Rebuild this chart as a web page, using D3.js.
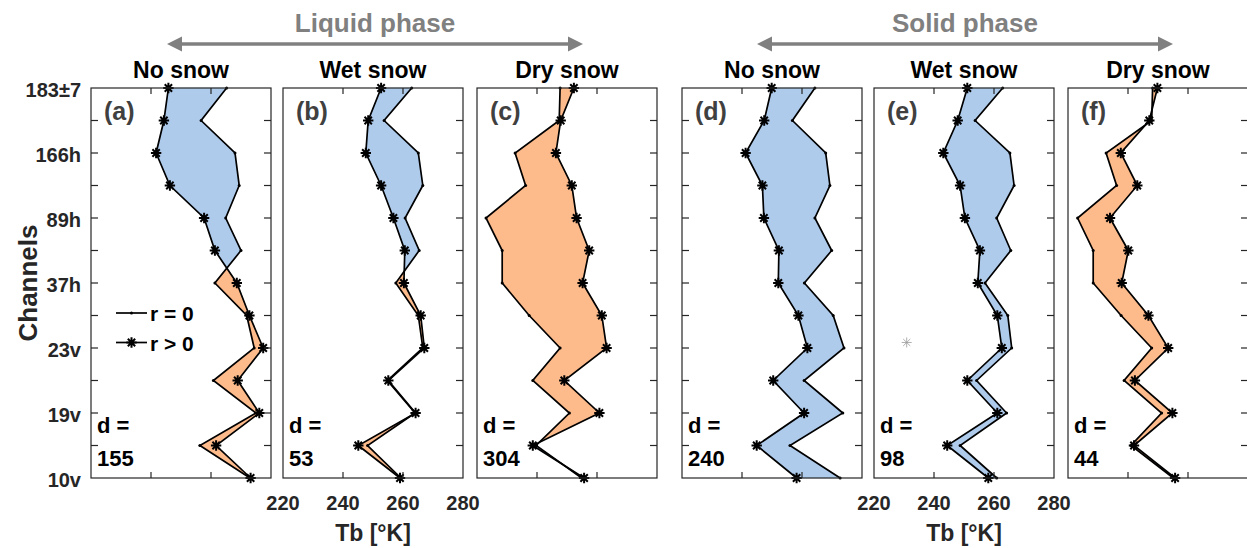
<!DOCTYPE html>
<html><head><meta charset="utf-8">
<script src="https://cdn.jsdelivr.net/npm/d3@7"></script>
<style>
body{margin:0;background:#fff;}
text{font-family:"Liberation Sans",Arial,sans-serif;font-weight:bold;}
</style></head>
<body><svg id="c" width="1247" height="548"></svg>
<script>
// ---------- data ----------
const channels = ["10v","10h","19v","19h","23v","37v","37h","89v","89h","166v","166h","183±3","183±7"];
const panelLetters = ["(a)","(b)","(c)","(d)","(e)","(f)"];
const panelTitles = ["No snow","Wet snow","Dry snow","No snow","Wet snow","Dry snow"];
const dValues = [155, 53, 304, 240, 98, 44];
const phaseLabels = ["Liquid phase","Solid phase"];
const xTicks = [220, 240, 260, 280];
// Tb values, ordered from 10v (bottom) to 183±7 (top)
const rZeroA = [273.0,256.3,275.0,260.8,274.4,271.9,261.3,270.0,264.9,269.4,268.0,256.7,265.2];
const rPosA  = [273.2,261.7,276.1,268.9,277.4,272.8,268.6,261.3,257.7,246.3,241.7,244.3,245.8];
const rZeroB = [259.3,248.2,264.0,254.8,266.6,265.1,257.6,265.4,260.7,266.6,265.1,253.7,262.9];
const rPosB  = [259.0,245.1,264.2,255.1,267.1,265.9,260.3,260.6,256.8,252.7,247.6,248.4,252.7];
const rZeroC = [254.9,239.7,250.8,238.6,247.7,237.4,228.4,228.4,223.0,236.2,232.7,247.4,247.7];
const rPosC  = [255.7,238.6,260.8,249.1,263.2,261.6,255.2,257.4,253.2,251.6,246.3,247.9,252.3];
const rZeroD = [272.7,256.0,273.6,260.7,274.0,270.4,260.8,269.9,264.3,269.3,267.9,256.8,264.3];
const rPosD  = [258.2,244.9,260.7,250.4,261.8,258.8,252.1,252.3,247.3,246.8,241.2,247.4,249.9];
const rZeroE = [260.9,248.7,264.2,254.2,265.9,264.6,257.0,265.6,260.9,266.7,265.3,253.7,262.9];
const rPosE  = [258.1,244.4,261.1,251.1,262.6,261.1,254.6,255.3,250.3,248.7,243.1,247.9,251.1];
const rZeroF = [255.1,241.0,251.2,238.7,247.9,237.7,228.4,228.4,223.2,236.2,232.7,247.9,248.2];
const rPosF  = [255.7,242.0,254.8,242.3,253.4,246.8,237.9,240.1,234.0,243.1,237.6,247.1,249.8];
const rZeroSeries = [rZeroA, rZeroB, rZeroC, rZeroD, rZeroE, rZeroF];
const rPosSeries  = [rPosA, rPosB, rPosC, rPosD, rPosE, rPosF];
const legendLabels = ["r = 0", "r > 0"];
// a stray grey marker visible in panel (e): [panel index, Tb, channel position]
const strayMarker = [4, 230.9, 4.17];

// ---------- layout ----------
const svg = d3.select("#c");
const panelLeft = [91, 283, 477, 682, 874, 1068];
const pw = 180, topY = 88, bottomY = 478;
const axisCol = "#262626";
const blue = "#afcbec", orange = "#fdbb8c";
const lw = 1.7;

const y = d3.scaleLinear().domain([0, channels.length - 1]).range([bottomY, topY]);

function asterisk(g, cx, cy, r, col, w) {
  const p = d3.path();
  for (let k = 0; k < 4; k++) {
    const a = k * Math.PI / 4;
    p.moveTo(cx - r * Math.cos(a), cy - r * Math.sin(a));
    p.lineTo(cx + r * Math.cos(a), cy + r * Math.sin(a));
  }
  g.append("path").attr("d", p.toString()).attr("stroke", col).attr("stroke-width", w).attr("fill", "none");
}
function interp(arr, p) {
  const i = Math.min(Math.floor(p), arr.length - 2), f = p - i;
  return arr[i] + f * (arr[i + 1] - arr[i]);
}

panelLeft.forEach((L, pi) => {
  const x = d3.scaleLinear().domain([220, 280]).range([L, L + pw]);
  const g = svg.append("g");
  const r0 = rZeroSeries[pi], rp = rPosSeries[pi];
  const n = r0.length;
  const diff = rp.map((v, i) => v - r0[i]);

  // regions between significant crossings
  const breaks = [0];
  for (let i = 0; i < n - 1; i++) {
    if (diff[i] * diff[i + 1] < 0 && Math.abs(diff[i]) >= 1 && Math.abs(diff[i + 1]) >= 1)
      breaks.push(i + diff[i] / (diff[i] - diff[i + 1]));
  }
  breaks.push(n - 1);
  for (let k = 0; k < breaks.length - 1; k++) {
    const s = breaks[k], e = breaks[k + 1];
    const ps = [s];
    for (let i = Math.floor(s) + 1; i < e; i++) ps.push(i);
    ps.push(e);
    let area = 0;
    for (let j = 0; j < ps.length - 1; j++) {
      const da = interp(rp, ps[j]) - interp(r0, ps[j]);
      const db = interp(rp, ps[j + 1]) - interp(r0, ps[j + 1]);
      area += (da + db) / 2 * (ps[j + 1] - ps[j]);
    }
    const pts = ps.map(p => [x(interp(r0, p)), y(p)])
      .concat(ps.slice().reverse().map(p => [x(interp(rp, p)), y(p)]));
    const c = area > 0 ? orange : blue;
    g.append("path").attr("d", d3.line()(pts) + "Z").attr("fill", c).attr("stroke", c).attr("stroke-width", 0.5);
  }

  const line = d3.line().x(d => x(d[0])).y(d => y(d[1]));
  g.append("path").datum(r0.map((v, i) => [v, i])).attr("d", line)
    .attr("fill", "none").attr("stroke", "#000").attr("stroke-width", lw);
  g.append("path").datum(rp.map((v, i) => [v, i])).attr("d", line)
    .attr("fill", "none").attr("stroke", "#000").attr("stroke-width", lw);
  r0.forEach((v, i) => g.append("circle").attr("cx", x(v)).attr("cy", y(i)).attr("r", 1.5).attr("fill", "#000"));
  rp.forEach((v, i) => asterisk(g, x(v), y(i), 5.2, "#000", 2));

  // frame
  g.append("rect").attr("x", L).attr("y", topY).attr("width", pw).attr("height", bottomY - topY)
    .attr("fill", "none").attr("stroke", axisCol).attr("stroke-width", 1.2);
  // y ticks
  d3.range(n).forEach(i => {
    if (i === 0 || i === n - 1) return;
    g.append("line").attr("x1", L + pw).attr("x2", L + pw - 7).attr("y1", y(i)).attr("y2", y(i))
      .attr("stroke", axisCol).attr("stroke-width", 1.2);
    if (pi === 0 || pi === 3)
      g.append("line").attr("x1", L).attr("x2", L + 7).attr("y1", y(i)).attr("y2", y(i))
        .attr("stroke", axisCol).attr("stroke-width", 1.2);
  });
  // x ticks top & bottom
  xTicks.slice(1, -1).forEach(t => {
    g.append("line").attr("x1", x(t)).attr("x2", x(t)).attr("y1", bottomY).attr("y2", bottomY - 6)
      .attr("stroke", axisCol).attr("stroke-width", 1.2);
    g.append("line").attr("x1", x(t)).attr("x2", x(t)).attr("y1", topY).attr("y2", topY + 6)
      .attr("stroke", axisCol).attr("stroke-width", 1.2);
  });

  // texts
  g.append("text").attr("x", L + pw / 2).attr("y", 78).attr("text-anchor", "middle")
    .attr("font-size", 23).attr("fill", "#000").text(panelTitles[pi]);
  g.append("text").attr("x", L + 13).attr("y", 120).attr("font-size", 25)
    .attr("fill", "#404040").text(panelLetters[pi]);
  g.append("text").attr("x", L + 6).attr("y", 433).attr("font-size", 22).attr("fill", "#000").text("d =");
  g.append("text").attr("x", L + 6).attr("y", 466).attr("font-size", 22).attr("fill", "#000").text(dValues[pi]);

  if (pi === 1 || pi === 4) {
    xTicks.forEach(t => g.append("text").attr("x", x(t)).attr("y", 510).attr("text-anchor", "middle")
      .attr("font-size", 20).attr("fill", axisCol).text(t));
    g.append("text").attr("x", L + pw / 2).attr("y", 541).attr("text-anchor", "middle")
      .attr("font-size", 23).attr("fill", axisCol).text("Tb [°K]");
  }
  if (pi === 0) {
    channels.forEach((c, i) => {
      if (i % 2) return;
      g.append("text").attr("x", L - 10).attr("y", y(i) + 9).attr("text-anchor", "end")
        .attr("font-size", 20).attr("fill", axisCol).text(c);
    });
    // legend
    const ly = [y(5) - 2.5, y(4) - 5.5];
    ly.forEach((yy, k) => {
      g.append("line").attr("x1", L + 25).attr("x2", L + 56).attr("y1", yy).attr("y2", yy)
        .attr("stroke", "#000").attr("stroke-width", lw);
      if (k === 0) g.append("circle").attr("cx", L + 40.5).attr("cy", yy).attr("r", 1.5).attr("fill", "#000");
      else asterisk(g, L + 40.5, yy, 5.2, "#000", 2);
      g.append("text").attr("x", L + 59).attr("y", yy + 8).attr("font-size", 21).attr("fill", "#000").text(legendLabels[k]);
    });
  }
  if (pi === strayMarker[0]) {
    asterisk(g, x(strayMarker[1]), y(strayMarker[2]), 5, "#9a9a9a", 0.8);
  }
});

// Channels label
svg.append("text").attr("transform", `translate(37,${(topY + bottomY) / 2}) rotate(-90)`)
  .attr("text-anchor", "middle").attr("font-size", 26).attr("fill", axisCol).text("Channels");

// phase arrows
const arrows = [[167, 583], [757, 1173]];
arrows.forEach((ar, k) => {
  const ay = 44, col = "#808080", hl = 15, hw = 7.5;
  svg.append("line").attr("x1", ar[0] + hl - 2).attr("x2", ar[1] - hl + 2).attr("y1", ay).attr("y2", ay)
    .attr("stroke", col).attr("stroke-width", 3.5);
  svg.append("path").attr("fill", col)
    .attr("d", `M${ar[0]},${ay}L${ar[0] + hl},${ay - hw}L${ar[0] + hl},${ay + hw}Z`);
  svg.append("path").attr("fill", col)
    .attr("d", `M${ar[1]},${ay}L${ar[1] - hl},${ay - hw}L${ar[1] - hl},${ay + hw}Z`);
  svg.append("text").attr("x", (ar[0] + ar[1]) / 2).attr("y", 32).attr("text-anchor", "middle")
    .attr("font-size", 26).attr("fill", col).text(phaseLabels[k]);
});
</script></body></html>
